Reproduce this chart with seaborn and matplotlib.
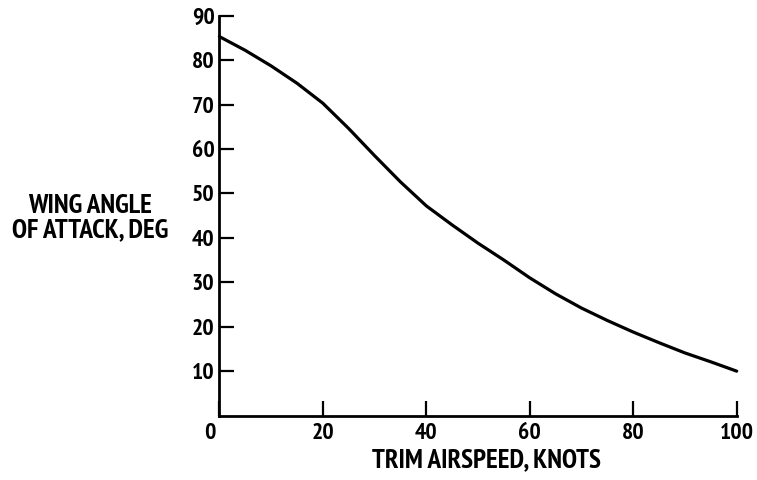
import numpy as np
import pandas as pd
import matplotlib
matplotlib.use("Agg")
import matplotlib.pyplot as plt
import matplotlib.transforms as mtransforms
from matplotlib import font_manager as fm
import os
import seaborn as sns

# Data
airspeed_knots = [0, 5, 10, 15, 20, 25, 30, 35, 40, 45, 50, 55, 60, 65, 70, 75, 80, 85, 90, 95, 100]
wing_aoa_deg = [85.3, 82.2, 78.7, 74.8, 70.3, 64.6, 58.5, 52.6, 47.2, 42.9, 38.8, 35.0, 31.0, 27.4, 24.2, 21.4, 18.8, 16.4, 14.1, 12.1, 10.0]

x_ticks = [0, 20, 40, 60, 80, 100]
y_ticks = [10, 20, 30, 40, 50, 60, 70, 80, 90]
x_label = "TRIM AIRSPEED, KNOTS"
y_label = "WING ANGLE\nOF ATTACK, DEG"

df = pd.DataFrame({"airspeed": airspeed_knots, "aoa": wing_aoa_deg})

# pick an installed condensed bold sans family (static bold face)
preferred = ["Liberation Sans Narrow", "PT Sans Narrow", "Archivo Narrow", "Roboto Condensed",
             "Fira Sans Condensed", "IBM Plex Sans Condensed", "Barlow Condensed", "Asap Condensed",
             "Encode Sans Condensed", "Saira Condensed", "Sofia Sans Condensed", "Open Sans Condensed",
             "Pathway Gothic One", "News Cycle", "Liberation Sans"]
chosen = "DejaVu Sans"
entries = fm.fontManager.ttflist
for name in preferred:
    ok = [f for f in entries if f.name == name and f.weight in (600, 700, "bold", "semibold")
          and "[" not in os.path.basename(f.fname)]
    if ok:
        chosen = name
        break

sns.set_style("ticks")
plt.rcParams["font.family"] = [chosen, "DejaVu Sans"]
plt.rcParams["font.weight"] = "bold"
plt.rcParams["text.color"] = "black"

W, H = 757, 480
fig = plt.figure(figsize=(W / 100, H / 100), dpi=100)
left, right, bottom, top = 219.4, 736.7, 415.6, 15.7
ax = fig.add_axes([left / W, 1 - bottom / H, (right - left) / W, (bottom - top) / H])

sns.lineplot(data=df, x="airspeed", y="aoa", ax=ax, color="black", linewidth=2.3, clip_on=False)

ax.set_xlim(0, 100)
ax.set_ylim(0, 90)
ax.set_xticks(x_ticks)
ax.set_yticks(y_ticks)
ax.tick_params(axis="x", direction="in", length=11, width=1.6, pad=5, colors="black", labelsize=17)
ax.tick_params(axis="y", direction="in", length=11, width=1.6, pad=3.5, colors="black", labelsize=17)
ax.set_xticklabels([str(v) for v in x_ticks], fontsize=17, fontweight="bold", color="black")
ax.set_yticklabels([str(v) for v in y_ticks], fontsize=17, fontweight="bold", color="black")

for side in ["top", "right"]:
    ax.spines[side].set_visible(False)
for side in ["left", "bottom"]:
    ax.spines[side].set_linewidth(2.0)
    ax.spines[side].set_color("black")

# shift the "0" label left as in the reference
lbl0 = ax.get_xticklabels()[0]
lbl0.set_transform(lbl0.get_transform() + mtransforms.ScaledTranslation(-10 / 100, 0, fig.dpi_scale_trans))

ax.set_xlabel(x_label, fontsize=19.5, fontweight="bold", color="black", va="center")
ax.set_ylabel(y_label, fontsize=19.5, fontweight="bold", color="black", rotation=0, ha="center",
              va="center", multialignment="center", linespacing=1.0)
ax.xaxis.set_label_coords(0.517, -0.111)
ax.yaxis.set_label_coords(-0.250, 0.493)

ax.grid(False)
fig.savefig("out.png", dpi=100, facecolor="white")
